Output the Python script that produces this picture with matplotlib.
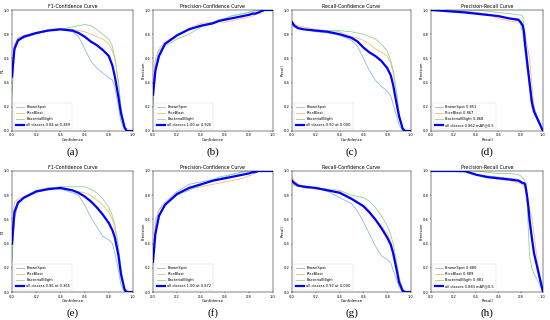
import matplotlib
matplotlib.use("Agg")
import matplotlib.pyplot as plt

# shared x grids (confidence / recall)
conf = [0, .02, .05, .1, .2, .3, .4, .5, .55, .6, .65, .7, .75, .8, .83, .85, .88, .9, .93, .95, 1.0]
rec = [0, .15, .3, .4, .5, .6, .7, .78, .8, .82, .83, .84, .85, .86, .87, .88, .9, .92, .95, .98, 1.0]

classes = ["BrownSpot", "RiceBlast", "BacterialBlight"]

# row 1
a_brown = [0.45, 0.70, 0.77, 0.79, 0.81, 0.83, 0.84, 0.82, 0.78, 0.68, 0.58, 0.52, 0.48, 0.44, 0.42, 0.36, 0.20, 0.08, 0.01, 0.0, 0.0]
a_rice = [0.50, 0.72, 0.77, 0.79, 0.81, 0.84, 0.85, 0.84, 0.83, 0.82, 0.80, 0.78, 0.76, 0.72, 0.66, 0.60, 0.40, 0.20, 0.03, 0.0, 0.0]
a_bact = [0.30, 0.65, 0.74, 0.77, 0.80, 0.83, 0.84, 0.86, 0.87, 0.88, 0.87, 0.84, 0.80, 0.76, 0.70, 0.60, 0.40, 0.20, 0.03, 0.0, 0.0]
a_all = [0.45, 0.68, 0.75, 0.78, 0.81, 0.83, 0.84, 0.83, 0.81, 0.78, 0.74, 0.71, 0.67, 0.62, 0.54, 0.45, 0.28, 0.15, 0.03, 0.0, 0.0]

b_brown = [0.30, 0.55, 0.66, 0.72, 0.80, 0.84, 0.87, 0.90, 0.91, 0.93, 0.95, 0.96, 0.97, 0.98, 0.99, 0.99, 1.0, 1.0, 1.0, 1.0, 1.0]
b_rice = [0.35, 0.60, 0.68, 0.74, 0.79, 0.85, 0.89, 0.90, 0.90, 0.90, 0.91, 0.92, 0.93, 0.94, 0.95, 0.96, 0.97, 0.97, 1.0, 1.0, 1.0]
b_bact = [0.20, 0.48, 0.62, 0.70, 0.76, 0.80, 0.86, 0.90, 0.92, 0.93, 0.95, 0.96, 0.97, 0.98, 0.99, 1.0, 1.0, 1.0, 1.0, 1.0, 1.0]
b_all = [0.30, 0.50, 0.62, 0.72, 0.79, 0.84, 0.87, 0.89, 0.91, 0.92, 0.93, 0.94, 0.95, 0.96, 0.97, 0.97, 0.98, 0.99, 1.0, 1.0, 1.0]

c_brown = [0.90, 0.88, 0.86, 0.84, 0.82, 0.81, 0.79, 0.75, 0.70, 0.60, 0.50, 0.42, 0.37, 0.33, 0.29, 0.22, 0.12, 0.05, 0.0, 0.0, 0.0]
c_rice = [0.90, 0.88, 0.87, 0.86, 0.84, 0.83, 0.82, 0.78, 0.77, 0.75, 0.72, 0.68, 0.65, 0.62, 0.56, 0.48, 0.30, 0.15, 0.02, 0.0, 0.0]
c_bact = [0.88, 0.86, 0.85, 0.84, 0.83, 0.83, 0.83, 0.82, 0.81, 0.80, 0.78, 0.76, 0.72, 0.66, 0.58, 0.50, 0.32, 0.15, 0.02, 0.0, 0.0]
c_all = [0.90, 0.87, 0.85, 0.84, 0.83, 0.82, 0.80, 0.77, 0.74, 0.69, 0.65, 0.62, 0.58, 0.52, 0.46, 0.38, 0.22, 0.12, 0.02, 0.0, 0.0]

d_brown = [1.0, 1.0, 0.99, 0.98, 0.96, 0.95, 0.93, 0.91, 0.88, 0.80, 0.72, 0.65, 0.56, 0.50, 0.45, 0.40, 0.28, 0.20, 0.12, 0.05, 0.0]
d_rice = [1.0, 1.0, 0.99, 0.98, 0.97, 0.93, 0.91, 0.90, 0.90, 0.88, 0.85, 0.80, 0.75, 0.70, 0.65, 0.60, 0.40, 0.20, 0.10, 0.04, 0.0]
d_bact = [1.0, 1.0, 1.0, 1.0, 0.99, 0.98, 0.97, 0.96, 0.96, 0.95, 0.80, 0.68, 0.60, 0.50, 0.42, 0.35, 0.20, 0.18, 0.10, 0.04, 0.0]
d_all = [1.0, 0.99, 0.98, 0.97, 0.96, 0.95, 0.93, 0.92, 0.90, 0.87, 0.82, 0.72, 0.64, 0.56, 0.48, 0.40, 0.24, 0.16, 0.10, 0.04, 0.0]

# row 2
e_brown = [0.40, 0.62, 0.74, 0.79, 0.84, 0.86, 0.85, 0.82, 0.80, 0.72, 0.62, 0.54, 0.46, 0.43, 0.40, 0.32, 0.18, 0.06, 0.0, 0.0, 0.0]
e_rice = [0.50, 0.74, 0.77, 0.79, 0.83, 0.86, 0.86, 0.84, 0.83, 0.82, 0.80, 0.76, 0.72, 0.66, 0.60, 0.52, 0.35, 0.18, 0.02, 0.0, 0.0]
e_bact = [0.25, 0.60, 0.72, 0.78, 0.84, 0.86, 0.87, 0.87, 0.87, 0.87, 0.85, 0.82, 0.77, 0.70, 0.63, 0.56, 0.38, 0.20, 0.02, 0.0, 0.0]
e_all = [0.40, 0.66, 0.74, 0.78, 0.83, 0.85, 0.86, 0.84, 0.82, 0.79, 0.75, 0.70, 0.64, 0.57, 0.51, 0.45, 0.30, 0.15, 0.02, 0.0, 0.0]

f_brown = [0.25, 0.55, 0.68, 0.74, 0.83, 0.89, 0.91, 0.93, 0.94, 0.95, 0.97, 0.98, 0.99, 1.0, 1.0, 1.0, 1.0, 1.0, 1.0, 1.0, 1.0]
f_rice = [0.30, 0.60, 0.68, 0.74, 0.80, 0.85, 0.87, 0.89, 0.90, 0.91, 0.92, 0.93, 0.94, 0.96, 0.97, 0.99, 1.0, 1.0, 1.0, 1.0, 1.0]
f_bact = [0.22, 0.50, 0.62, 0.72, 0.80, 0.84, 0.88, 0.93, 0.95, 0.96, 0.97, 0.98, 1.0, 1.0, 1.0, 1.0, 1.0, 1.0, 1.0, 1.0, 1.0]
f_all = [0.25, 0.48, 0.63, 0.72, 0.81, 0.86, 0.89, 0.92, 0.93, 0.94, 0.95, 0.96, 0.97, 0.98, 0.99, 0.99, 1.0, 1.0, 1.0, 1.0, 1.0]

g_brown = [0.92, 0.89, 0.88, 0.87, 0.86, 0.83, 0.78, 0.73, 0.67, 0.58, 0.48, 0.38, 0.30, 0.27, 0.24, 0.18, 0.10, 0.04, 0.0, 0.0, 0.0]
g_rice = [0.95, 0.92, 0.89, 0.86, 0.85, 0.84, 0.83, 0.78, 0.74, 0.70, 0.65, 0.60, 0.55, 0.48, 0.42, 0.35, 0.22, 0.12, 0.02, 0.0, 0.0]
g_bact = [0.90, 0.88, 0.87, 0.88, 0.86, 0.85, 0.84, 0.80, 0.79, 0.78, 0.75, 0.70, 0.63, 0.55, 0.47, 0.40, 0.25, 0.12, 0.02, 0.0, 0.0]
g_all = [0.92, 0.90, 0.88, 0.87, 0.86, 0.84, 0.82, 0.77, 0.74, 0.71, 0.66, 0.60, 0.53, 0.45, 0.39, 0.32, 0.18, 0.08, 0.01, 0.0, 0.0]

h_brown = [1.0, 1.0, 0.99, 0.97, 0.96, 0.95, 0.94, 0.93, 0.92, 0.90, 0.89, 0.88, 0.80, 0.72, 0.62, 0.55, 0.45, 0.32, 0.18, 0.06, 0.0]
h_rice = [1.0, 1.0, 0.99, 0.97, 0.95, 0.93, 0.92, 0.90, 0.90, 0.88, 0.87, 0.85, 0.80, 0.74, 0.70, 0.68, 0.62, 0.48, 0.25, 0.10, 0.0]
h_bact = [1.0, 1.0, 1.0, 1.0, 0.99, 0.98, 0.98, 0.97, 0.96, 0.94, 0.93, 0.91, 0.90, 0.70, 0.50, 0.30, 0.20, 0.15, 0.10, 0.04, 0.0]
h_all = [1.0, 1.0, 1.0, 0.97, 0.95, 0.94, 0.93, 0.92, 0.91, 0.90, 0.90, 0.89, 0.84, 0.78, 0.70, 0.60, 0.45, 0.32, 0.20, 0.08, 0.0]

ap_row1 = ["0.851", "0.867", "0.868"]
ap_row2 = ["0.880", "0.889", "0.881"]

class_colors = ["#8dbbe0", "#f8b879", "#95d190"]

fig = plt.figure(figsize=(5.5, 3.2), dpi=100)


def draw_panel(rect, title, xlabel, ylabel, x, curves, labels, all_label, letter):
    ax = fig.add_axes(rect)
    for y, lab, col in zip(curves[:3], labels, class_colors):
        ax.plot(x, y, color=col, linewidth=0.6, label=lab)
    ax.plot(x, curves[3], color="#0000ff", linewidth=1.6, label=all_label)
    ax.set_xlim(0, 1)
    ax.set_ylim(0, 1)
    ax.set_xticks([0, .2, .4, .6, .8, 1.0])
    ax.set_yticks([0, .2, .4, .6, .8, 1.0])
    ax.tick_params(labelsize=2.6, length=1, width=0.3, pad=0.8)
    for s in ax.spines.values():
        s.set_linewidth(0.35)
    ax.set_title(title, fontsize=3.4, pad=1.5)
    ax.set_xlabel(xlabel, fontsize=2.8, labelpad=0.5)
    ax.set_ylabel(ylabel, fontsize=2.8)
    ax.yaxis.set_label_coords(-0.065, 0.5)
    leg = ax.legend(loc="lower left", fontsize=2.6, frameon=True, handlelength=2.2,
                    borderpad=0.5, labelspacing=0.6, fancybox=False)
    leg.get_frame().set_linewidth(0.3)
    bb = ax.get_position()
    fig.text(bb.x0 + bb.width / 2, bb.y0 - 21 / 320, letter, ha="center", va="center",
             fontsize=8, family="Liberation Serif")
    return ax


cols_x = [(12, 121), (153, 120), (292, 119), (431, 112)]
rows_y = [131, 292]
H = 121

rows = [
    [(a_brown, a_rice, a_bact, a_all), (b_brown, b_rice, b_bact, b_all),
     (c_brown, c_rice, c_bact, c_all), (d_brown, d_rice, d_bact, d_all)],
    [(e_brown, e_rice, e_bact, e_all), (f_brown, f_rice, f_bact, f_all),
     (g_brown, g_rice, g_bact, g_all), (h_brown, h_rice, h_bact, h_all)],
]
all_labels = [
    ["all classes 0.84 at 0.389", "all classes 1.00 at 0.926",
     "all classes 0.90 at 0.000", "all classes 0.862 mAP@0.5"],
    ["all classes 0.86 at 0.365", "all classes 1.00 at 0.872",
     "all classes 0.92 at 0.000", "all classes 0.883 mAP@0.5"],
]
letters = [["(a)", "(b)", "(c)", "(d)"], ["(e)", "(f)", "(g)", "(h)"]]
titles = ["F1-Confidence Curve", "Precision-Confidence Curve",
          "Recall-Confidence Curve", "Precision-Recall Curve"]
xlabels = ["Confidence", "Confidence", "Confidence", "Recall"]
ylabels = ["F1", "Precision", "Recall", "Precision"]

for r in range(2):
    aps = ap_row1 if r == 0 else ap_row2
    for c in range(4):
        x0, w = cols_x[c]
        rect = [x0 / 550, (320 - rows_y[r]) / 320, w / 550, H / 320]
        if c == 3:
            labs = [f"{n} {v}" for n, v in zip(classes, aps)]
            xs = rec
        else:
            labs = classes
            xs = conf
        draw_panel(rect, titles[c], xlabels[c], ylabels[c], xs, rows[r][c],
                   labs, all_labels[r][c], letters[r][c])

fig.savefig("out.png", dpi=100)
